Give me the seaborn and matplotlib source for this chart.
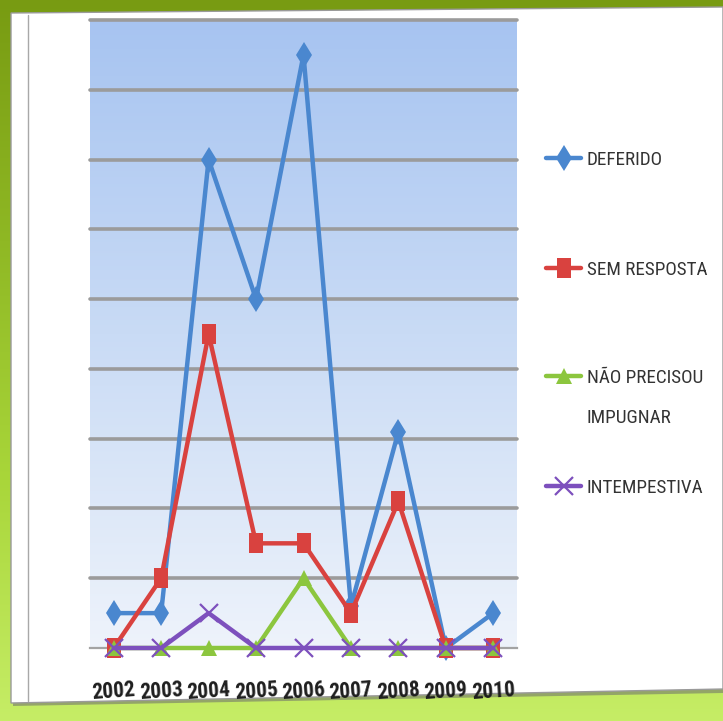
import numpy as np
import pandas as pd
import matplotlib
matplotlib.use("Agg")
import matplotlib.pyplot as plt
import seaborn as sns
from matplotlib.colors import LinearSegmentedColormap
from matplotlib.patches import Polygon
from matplotlib.ticker import FixedLocator

# --- data -------------------------------------------------------------
anos = ["2002", "2003", "2004", "2005", "2006", "2007", "2008", "2009", "2010"]
deferido = [5, 5, 70, 50, 85, 6, 31, 0, 5]
sem_resposta = [0, 10, 45, 15, 15, 5, 21, 0, 0]
nao_precisou = [0, 0, 0, 0, 10, 0, 0, 0, 0]
intempestiva = [0, 0, 5, 0, 0, 0, 0, 0, 0]

series_nomes = ["DEFERIDO", "SEM RESPOSTA", "NÃO PRECISOU IMPUGNAR", "INTEMPESTIVA"]
series_vals = [deferido, sem_resposta, nao_precisou, intempestiva]

df = pd.DataFrame({
    "ano": anos * len(series_nomes),
    "valor": sum(series_vals, []),
    "serie": np.repeat(series_nomes, len(anos)),
})

sns.set_style("white")
plt.rcParams["font.family"] = ["Roboto Condensed", "Roboto", "DejaVu Sans"]

W, H = 723, 721
fig = plt.figure(figsize=(W / 100, H / 100), dpi=100)

# --- slide background: green gradient with a white panel ----------------
bg = fig.add_axes([0, 0, 1, 1], zorder=0)
bg.set_xlim(0, W)
bg.set_ylim(H, 0)
bg.axis("off")
green = LinearSegmentedColormap.from_list(
    "green", ["#789b12", "#8fb824", "#a9d63a", "#c6ed66"])
bg.imshow(np.linspace(0, 1, 256)[:, None], extent=(0, W, H, 0),
          aspect="auto", cmap=green, zorder=0)
shadow = Polygon([(13, 15), (W, 9), (W, 693), (13, 706)],
                 closed=True, fc="#6d6d6d", ec="none", alpha=0.55, zorder=1)
panel = Polygon([(11, 13), (W, 7), (W, 689), (11, 703)],
                closed=True, fc="white", ec="#9a9a9a", lw=1.0, zorder=2)
bg.add_patch(shadow)
bg.add_patch(panel)
bg.plot([28, 28], [15, 701], color="#a8a8a8", lw=1.0, zorder=3)

# --- chart area ----------------------------------------------------------
ax = fig.add_axes([90 / W, 1 - 648 / H, 427 / W, 628 / H], zorder=2)
ax.set_facecolor("none")
ax.set_xlim(-0.5, 8.5)
ax.set_ylim(0, 90)

blue_bg = LinearSegmentedColormap.from_list("bluebg", ["#eef3fb", "#c9dbf5", "#a7c4f1"])
ax.imshow(np.linspace(1, 0, 256)[:, None], extent=(-0.5, 8.5, 0, 90),
          aspect="auto", cmap=blue_bg, zorder=0)

ax.yaxis.set_major_locator(FixedLocator(range(10, 91, 10)))
ax.yaxis.grid(True, color="#9b9b9b", lw=2.6, zorder=1)
ax.xaxis.grid(False)
ax.set_axisbelow(True)
for gl in ax.get_ygridlines():
    gl.set_clip_on(False)

colors = {"DEFERIDO": "#4a87cf", "SEM RESPOSTA": "#d9423f",
          "NÃO PRECISOU IMPUGNAR": "#8cc63e", "INTEMPESTIVA": "#7d50bd"}
tall_square = [(-0.75, -1), (0.75, -1), (0.75, 1), (-0.75, 1)]
markers = {"DEFERIDO": "d", "SEM RESPOSTA": tall_square,
           "NÃO PRECISOU IMPUGNAR": "^", "INTEMPESTIVA": "x"}
msizes = {"DEFERIDO": 13.5, "SEM RESPOSTA": 14,
          "NÃO PRECISOU IMPUGNAR": 12, "INTEMPESTIVA": 13}

handles = {}
for i, nome in enumerate(series_nomes):
    sub = df[df["serie"] == nome]
    n_before = len(ax.lines)
    sns.lineplot(data=sub, x="ano", y="valor", ax=ax, color=colors[nome],
                 lw=3.2, marker=markers[nome], markersize=msizes[nome],
                 markeredgewidth=1.6 if nome == "INTEMPESTIVA" else 0,
                 markeredgecolor=colors[nome], legend=False, zorder=3 + i)
    line = ax.lines[n_before]
    line.set_clip_on(False)
    handles[nome] = line

for s in ["left", "right", "top"]:
    ax.spines[s].set_visible(False)
ax.spines["bottom"].set_color("#a3a3a3")
ax.spines["bottom"].set_linewidth(1.6)
ax.spines["bottom"].set_zorder(2)

ax.set_xticks(range(len(anos)))
ax.set_xticklabels(anos)
ax.xaxis.set_minor_locator(FixedLocator(np.arange(-0.5, 9, 1)))
ax.tick_params(axis="x", which="major", length=0, pad=22, labelsize=15.5,
               labelcolor="#1e1e1e")
ax.tick_params(axis="x", which="minor", length=7, width=1.4,
               color="#a3a3a3", direction="out")
ax.tick_params(axis="y", length=0, labelleft=False)
for lab in ax.get_xticklabels():
    lab.set_fontweight("bold")
    lab.set_rotation(4)
ax.set_xlabel("")
ax.set_ylabel("")

# --- legend ----------------------------------------------------------------
legend_rows = [("DEFERIDO", "DEFERIDO", 160),
               ("SEM RESPOSTA", "SEM RESPOSTA", 270),
               ("NÃO PRECISOU IMPUGNAR", "NÃO PRECISOU", 378),
               ("INTEMPESTIVA", "INTEMPESTIVA", 488)]
for k, (nome, texto, ypix) in enumerate(legend_rows):
    leg = ax.legend(handles=[handles[nome]], labels=[texto],
                    loc="center left", bbox_to_anchor=(546 / W, 1 - ypix / H),
                    bbox_transform=fig.transFigure, frameon=False,
                    fontsize=13.8, handlelength=1.85, handletextpad=0.27,
                    borderpad=0, borderaxespad=0, labelcolor="#333333")
    if k < len(legend_rows) - 1:
        ax.add_artist(leg)
fig.text(587 / W, 1 - 418 / H, "IMPUGNAR", fontsize=13.8, color="#333333",
         ha="left", va="center")

fig.savefig("out.png", dpi=100)
